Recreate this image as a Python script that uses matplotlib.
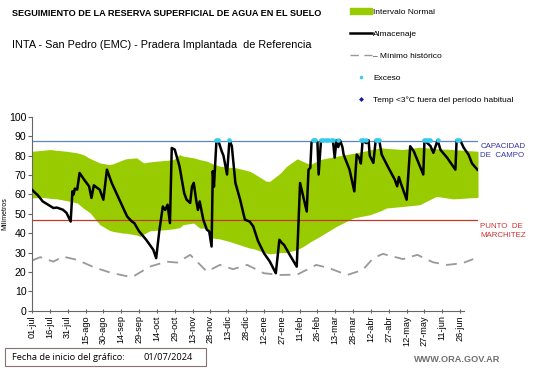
import matplotlib.pyplot as plt
import numpy as np
from matplotlib.lines import Line2D
from matplotlib.patches import Patch, Rectangle

plt.rcParams["font.family"] = ["Liberation Sans", "DejaVu Sans"]

# days since 01-jul-2024
TICK_LABELS = ["01-jul", "16-jul", "31-jul", "15-ago", "30-ago", "14-sep", "29-sep",
               "14-oct", "29-oct", "13-nov", "28-nov", "13-dic", "28-dic", "12-ene",
               "27-ene", "11-feb", "26-feb", "13-mar", "28-mar", "12-abr", "27-abr",
               "12-may", "27-may", "11-jun", "26-jun"]

band_days = [0, 9, 15, 21, 29, 38, 43, 49, 57, 65, 68, 77, 79, 88, 91, 94, 99, 105,
             113, 119, 124, 127, 136, 141, 147, 152, 158, 166, 172, 183, 186, 197,
             200, 209, 214, 223, 228, 234, 242, 256, 270, 273, 284, 293, 298, 312,
             326, 340, 354, 375]
band_upper = [82.3, 82.8, 83.2, 82.8, 82.3, 81.5, 80.6, 78.5, 76.3, 75.4, 75.8, 78.0,
              78.4, 78.9, 77.5, 76.3, 76.8, 77.2, 77.6, 78.0, 80.6, 79.8, 78.9, 78.0,
              77.2, 75.8, 74.6, 74.0, 73.7, 72.0, 71.0, 66.8, 66.8, 71.1, 74.5,
              78.4, 77.0, 75.4, 78.0, 79.7, 81.2, 81.5, 83.0, 84.1, 83.8, 83.2, 84.4,
              83.6, 83.2, 82.3]
band_lower = [58.2, 58.5, 58.0, 57.7, 56.8, 55.6, 53.0, 50.4, 44.4, 41.5, 40.9, 40.0,
              40.0, 39.0, 38.3, 39.5, 41.2, 41.5, 41.8, 42.3, 42.8, 44.4, 45.2, 42.6,
              42.6, 37.5, 37.0, 35.7, 34.5, 32.3, 32.0, 29.7, 29.3, 30.0, 30.0, 31.5,
              33.1, 35.5, 38.3, 43.5, 47.8, 48.2, 49.5, 51.5, 53.0, 53.8, 54.7, 59.0,
              57.7, 58.5]

min_days = [0, 7, 18, 26, 38, 52, 66, 81, 85, 99, 113, 122, 133, 147, 158, 169, 181,
            195, 209, 223, 239, 250, 265, 278, 287, 295, 312, 324, 337, 349, 362, 371]
min_hist = [25.9, 27.6, 25.3, 27.9, 26.2, 22.4, 19.6, 17.6, 17.6, 22.7, 25.3, 24.8,
            28.8, 20.2, 23.6, 21.4, 23.6, 19.3, 18.4, 18.6, 23.6, 21.9, 18.4, 21.0,
            27.1, 29.3, 26.6, 28.8, 25.0, 23.6, 24.5, 26.6]

alm_days = [0, 5, 9, 14, 18, 21, 26, 29, 32.5, 34, 35, 36, 38, 40, 44, 48, 50, 52,
            57, 60, 63, 67, 71, 76, 80, 84, 86, 90, 96, 102, 104.4, 107, 110, 112,
            114, 115, 116, 117.5, 120, 124, 128, 130, 133, 134.5, 136, 138, 139.5,
            141, 144, 147, 149, 151, 152, 153, 155, 156.5, 159.5, 161, 164, 166,
            168, 171, 175, 179, 183, 186, 190, 195, 200, 205, 208, 210, 212, 217,
            222.6, 225.4, 228, 231, 232.5, 234, 235, 237, 240, 241, 243, 247, 250,
            253, 254.5, 256, 257.5, 259, 261, 262, 267, 271, 273, 275, 276.5, 278,
            281, 283, 284, 287, 289, 292, 294, 299, 303, 305, 307, 308.5, 310, 315,
            318, 321, 329, 330, 335, 337.5, 341, 343.5, 349, 356, 357, 360, 363,
            367, 370, 374.5]
almacenaje = [62.4, 59.5, 56.4, 54.5, 53.0, 53.2, 52.1, 50.5, 46.0, 61.6, 60.0, 63.0,
              62.5, 71.1, 67.5, 64.2, 58.2, 64.7, 62.4, 57.3, 72.8, 66.0, 60.6, 54.0,
              48.6, 46.0, 45.2, 41.0, 36.6, 31.4, 27.1, 40.9, 53.8, 52.0, 54.7, 50.0,
              45.2, 84.0, 83.2, 74.6, 60.6, 57.3, 55.6, 64.0, 66.0, 57.3, 52.0, 56.4,
              47.0, 41.8, 40.9, 33.1, 72.0, 64.0, 86.7, 88.0, 82.3, 80.0, 70.3, 88.0,
              85.0, 66.0, 57.3, 47.0, 46.0, 43.5, 36.0, 29.7, 25.3, 19.3, 36.6, 35.0,
              33.9, 28.5, 22.7, 65.9, 59.0, 51.2, 72.8, 73.7, 86.7, 88.0, 87.0, 70.3,
              88.0, 88.0, 88.0, 88.0, 79.0, 88.0, 84.5, 88.0, 84.5, 80.6, 72.8, 61.6,
              80.6, 79.0, 76.0, 88.0, 86.5, 88.0, 80.0, 76.3, 88.0, 88.0, 80.6, 74.6,
              70.0, 67.7, 64.2, 69.0, 66.0, 57.3, 84.9, 82.3, 70.3, 88.0, 85.0, 81.5,
              88.0, 83.0, 79.0, 72.8, 88.0, 88.0, 84.1, 80.6, 76.0, 72.8]

exceso_days = [155, 156.5, 166, 236, 237, 238, 243, 245, 247, 249, 251, 253, 257.5,
               276.5, 278, 281, 289, 290, 292, 329.5, 331, 333, 335, 341, 357, 359]
exceso = [88.0] * len(exceso_days)

capacidad_campo = 87.5
punto_marchitez = 46.6

fig = plt.figure(figsize=(5.41, 3.68), dpi=100)
ax = fig.add_axes([32 / 541, 57.4 / 368, 446 / 541, 193.6 / 368])

ax.fill_between(band_days, band_lower, band_upper, color="#99cc00", lw=0, zorder=1)
ax.plot(min_days, min_hist, color="#999999", lw=1.3, ls=(0, (6, 4)), zorder=2)
ax.axhline(capacidad_campo, color="#5b86c0", lw=0.9, zorder=2)
ax.axhline(punto_marchitez, color="#c0392b", lw=0.9, zorder=2)
ax.plot(alm_days, almacenaje, color="black", lw=1.8, zorder=3)
ax.plot(exceso_days, exceso, "o", color="#33ccee", ms=3.3, mec="none", zorder=4)

ax.set_xlim(0, 375)
ax.set_ylim(0, 100)
ax.set_xticks(np.arange(len(TICK_LABELS)) * 15)
ax.set_xticklabels(TICK_LABELS, rotation=90, fontsize=6.6)
ax.set_yticks(range(0, 101, 10))
ax.tick_params(axis="y", labelsize=7.6, length=3, color="#666666", pad=1)
ax.tick_params(axis="x", length=3, direction="inout", color="#666666", pad=2)
for s in ["top", "right"]:
    ax.spines[s].set_visible(False)
ax.spines["left"].set_color("#666666")
ax.spines["bottom"].set_color("#666666")
ax.spines["bottom"].set_bounds(0, 363)
ax.set_ylabel("Milímetros", fontsize=5)
ax.yaxis.set_label_coords(-0.054, 0.5)

ax.text(1.005, (capacidad_campo - 5) / 100, "CAPACIDAD\nDE  CAMPO", transform=ax.transAxes,
        color="#3333aa", fontsize=5.7, va="center", ha="left", linespacing=1.25)
ax.text(1.005, (punto_marchitez - 5.5) / 100, "PUNTO  DE\nMARCHITEZ", transform=ax.transAxes,
        color="#cc3333", fontsize=5.7, va="center", ha="left", linespacing=1.25)

fig.text(12 / 541, 1 - 13 / 368, "SEGUIMIENTO DE LA RESERVA SUPERFICIAL DE AGUA EN EL SUELO",
         fontsize=6.6, fontweight="bold", va="center")
fig.text(12 / 541, 1 - 45 / 368, "INTA - San Pedro (EMC) - Pradera Implantada  de Referencia",
         fontsize=7.8, va="center")

handles = [
    Patch(color="#99cc00"),
    Line2D([], [], color="black", lw=1.8),
    Line2D([], [], color="#999999", lw=1.0, ls=(0, (6, 4))),
    Line2D([], [], ls="none", marker="o", color="#33ccee", ms=2.5, mec="none"),
    Line2D([], [], ls="none", marker="D", color="#1a1a99", ms=2.5, mec="none"),
]
labels = ["Intervalo Normal", "Almacenaje", "– Mínimo histórico", "Exceso",
          "Temp <3°C fuera del período habitual"]
fig.legend(handles, labels, loc="upper left", bbox_to_anchor=(350 / 541, 1 - 8.5 / 368),
           frameon=False, fontsize=6, borderpad=0, borderaxespad=0,
           handlelength=2.6, handleheight=0.7, handletextpad=0.2, labelspacing=1.7)

fig.add_artist(Rectangle((5 / 541, 2 / 368), 201 / 541, 18 / 368, transform=fig.transFigure,
                         fill=False, ec="#8b7070", lw=0.8))
fig.text(12 / 541, 11 / 368, "Fecha de inicio del gráfico:", fontsize=6.7,
         family="Open Sans", va="center")
fig.text(143 / 541, 11 / 368, "01/07/2024", fontsize=6.7, family="Open Sans", va="center")
fig.text(500 / 541, 9 / 368, "WWW.ORA.GOV.AR", fontsize=6.6, color="#707070",
         fontweight="bold", ha="right", va="center")

fig.savefig("out.png", dpi=100)
